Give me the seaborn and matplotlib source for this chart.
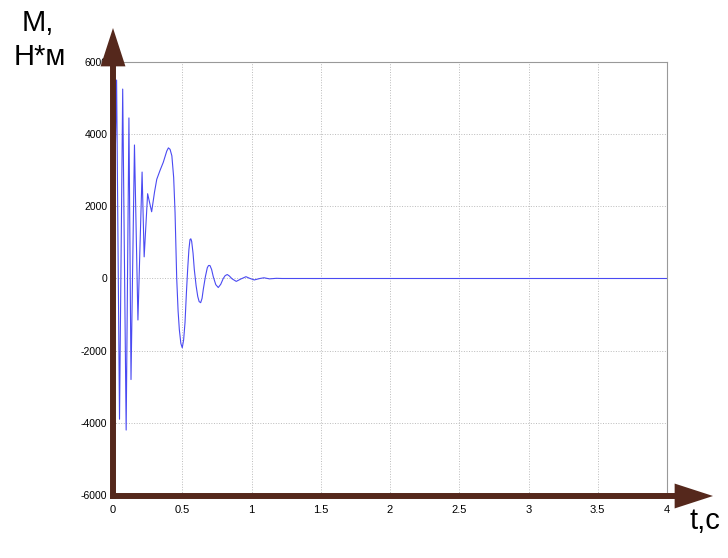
import numpy as np
import pandas as pd
import seaborn as sns
import matplotlib.pyplot as plt

# torque response
t_s = [0, 0.026, 0.047, 0.07, 0.095, 0.115, 0.13, 0.155, 0.18, 0.21, 0.225, 0.25,
       0.279, 0.30, 0.316, 0.34, 0.363, 0.388, 0.40, 0.412, 0.425, 0.438, 0.448,
       0.46, 0.47, 0.479, 0.49, 0.5, 0.51, 0.52, 0.53, 0.539, 0.548, 0.556, 0.562,
       0.568, 0.578, 0.587, 0.60, 0.612, 0.622, 0.633, 0.643, 0.652, 0.667, 0.681,
       0.69, 0.7, 0.712, 0.724, 0.742, 0.76, 0.778, 0.796, 0.81, 0.825, 0.84,
       0.86, 0.89, 0.925, 0.96, 0.99, 1.02, 1.06, 1.09, 1.13, 1.18, 1.22, 4.0]
torque = [0, 5500, -3900, 5250, -4200, 4450, -2800, 3700, -1150, 2950, 600, 2350,
          1850, 2400, 2750, 3000, 3220, 3530, 3620, 3580, 3400, 2800, 1830,
          0, -900, -1420, -1800, -1920, -1700, -1220, -400, 250, 800, 1080, 1100,
          1030, 700, 250, -200, -500, -640, -670, -550, -300, 50, 300,
          360, 360, 250, 50, -170, -250, -160, 0, 80, 110, 70,
          -10, -80, -10, 50, 0, -40, 0, 20, -10, 5, 0, 0]

x_ticks = [0, 0.5, 1, 1.5, 2, 2.5, 3, 3.5, 4]
x_labels = ["0", "0.5", "1", "1.5", "2", "2.5", "3", "3.5", "4"]
y_ticks = [-6000, -4000, -2000, 0, 2000, 4000, 6000]
y_labels = ["-6000", "-4000", "-2000", "0", "2000", "4000", "6000"]

df = pd.DataFrame({"t": t_s, "M": torque})

sns.set_style("white")
plt.rcParams['font.family'] = ['Liberation Sans', 'DejaVu Sans']
plt.rcParams['text.color'] = 'black'
plt.rcParams['xtick.color'] = 'black'
plt.rcParams['ytick.color'] = 'black'

W, H = 728, 558
fig = plt.figure(figsize=(W / 100, H / 100), dpi=100)
ax = fig.add_axes([113 / W, 1 - 495 / H, (667 - 113) / W, (495 - 62) / H])

sns.lineplot(data=df, x="t", y="M", ax=ax, color="#4a4af2", linewidth=0.8,
             estimator=None, sort=False)

ax.set_xlim(0, 4)
ax.set_ylim(-6000, 6000)
ax.set_xticks(x_ticks)
ax.set_xticklabels(x_labels, fontsize=8)
ax.set_yticks(y_ticks)
ax.set_yticklabels(y_labels, fontsize=7.5)
ax.set_xlabel("")
ax.set_ylabel("")
ax.tick_params(direction="in", length=3, width=0.6, color="#555555")
ax.tick_params(axis="x", pad=7)
ax.tick_params(axis="y", pad=4)
ax.grid(True, linestyle=":", linewidth=0.7, color="#bbbbbb")
for side in ax.spines.values():
    side.set_color("#999999")
    side.set_linewidth(0.8)

# thick brown axis arrows (figure pixel coords, origin bottom-left)
brown = "#55281c"
arrow = dict(arrowstyle="-|>,head_length=1.85,head_width=0.6", color=brown,
             lw=4.3, shrinkA=0, shrinkB=0, mutation_scale=10,
             joinstyle="miter", capstyle="butt")
ax.annotate("", xy=(113, H - 28), xytext=(113, H - 499),
            xycoords="figure pixels", textcoords="figure pixels", arrowprops=arrow)
ax.annotate("", xy=(713, H - 496), xytext=(110, H - 496),
            xycoords="figure pixels", textcoords="figure pixels", arrowprops=arrow)

fig.text(22 / W, 1 - 9 / H, "M,", fontsize=21, va="top", ha="left")
fig.text(14 / W, 1 - 43 / H, "Н*м", fontsize=21, va="top", ha="left")
fig.text(689 / W, 1 - 507 / H, "t,c", fontsize=21, va="top", ha="left")

fig.savefig("out.png", dpi=100)
